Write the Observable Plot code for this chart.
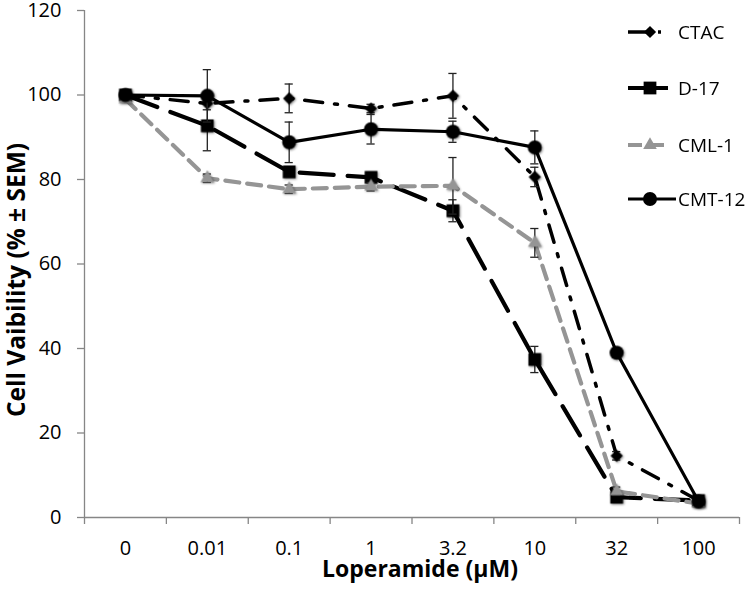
<!DOCTYPE html>
<html>
<head>
<meta charset="utf-8">
<script src="https://cdn.jsdelivr.net/npm/d3@7"></script>
<script src="https://cdn.jsdelivr.net/npm/@observablehq/plot@0.6"></script>
<style>
  html, body { margin: 0; padding: 0; background: #fff; }
  #chart { position: relative; width: 756px; height: 589px; font-family: "Open Sans", Lato, sans-serif; }
  #legend { position: absolute; left: 626px; top: 0; width: 130px; height: 230px; }
  .item { position: absolute; left: 0; height: 24px; display: flex; align-items: center; }
  .item span { font-size: 19px; color: #000; margin-left: 2px; }
  svg g[aria-label="dot"] { filter: drop-shadow(1px 1px 1.2px rgba(0,0,0,0.45)); }
  svg g[aria-label="y-axis tick"], svg g[aria-label="x-axis tick"] { stroke: #868686; stroke-width: 1.3; }
</style>
</head>
<body>
<div id="chart"><div id="legend"></div></div>
<script>
// ---- data ----
const concentrations = ["0", "0.01", "0.1", "1", "3.2", "10", "32", "100"];
const seriesNames = ["CTAC", "D-17", "CML-1", "CMT-12"];
const ctac      = [100, 98.0, 99.2, 96.8, 99.8, 80.6, 14.6, 4.0];
const ctacErr   = [0.5, 1.5, 3.4, 1.0, 5.3, 2.3, 1.0, 0.5];
const d17       = [100, 92.7, 81.8, 80.5, 72.6, 37.4, 4.8, 4.0];
const d17Err    = [0.5, 5.9, 1.0, 1.0, 2.6, 3.1, 0.5, 0.5];
const cml1      = [99.0, 80.3, 77.7, 78.3, 78.5, 65.0, 6.2, 3.3];
const cml1Err   = [0.5, 1.0, 1.0, 1.0, 6.7, 3.4, 1.0, 0.5];
const cmt12     = [100, 99.8, 88.8, 91.9, 91.3, 87.6, 39.0, 3.8];
const cmt12Err  = [0.5, 6.2, 4.8, 3.5, 2.5, 3.9, 1.0, 0.5];
const yTicks = [0, 20, 40, 60, 80, 100, 120];

// ---- styles ----
const styles = {
  "CTAC":   {color: "#000", width: 3.5, dash: "18,12,3,12", symbol: "diamond2", r: 5.5},
  "D-17":   {color: "#000", width: 4.2, dash: "34,14", symbol: "square", r: 7.2},
  "CML-1":  {color: "#959595", width: 4.2, dash: "14,8", symbol: "triangle2", r: 6.5},
  "CMT-12": {color: "#000", width: 3.2, dash: null, symbol: "circle", r: 7}
};
const valuesBy = {"CTAC": [ctac, ctacErr], "D-17": [d17, d17Err], "CML-1": [cml1, cml1Err], "CMT-12": [cmt12, cmt12Err]};

const cap = 0.05;
const marks = [];
for (const name of seriesNames) {
  const [vals, errs] = valuesBy[name];
  const st = styles[name];
  const rows = vals.map((v, i) => ({series: name, i, value: v, err: errs[i]}));
  marks.push(Plot.line(rows, {x: "i", y: "value", stroke: st.color, strokeWidth: st.width,
    strokeDasharray: st.dash || undefined, strokeLinejoin: "round"}));
  marks.push(Plot.ruleX(rows, {x: "i", y1: d => d.value - d.err, y2: d => d.value + d.err, stroke: "#222", strokeWidth: 1.3}));
  marks.push(Plot.ruleY(rows, {y: d => d.value + d.err, x1: d => d.i - cap, x2: d => d.i + cap, stroke: "#222", strokeWidth: 1.3}));
  marks.push(Plot.ruleY(rows, {y: d => d.value - d.err, x1: d => d.i - cap, x2: d => d.i + cap, stroke: "#222", strokeWidth: 1.3}));
  marks.push(Plot.dot(rows, {x: "i", y: "value", symbol: () => st.symbol, r: st.r, fill: st.color, stroke: "none"}));
}

const chart = Plot.plot({
  width: 756,
  height: 589,
  marginLeft: 84,
  marginRight: 17,
  marginTop: 10,
  marginBottom: 72,
  style: {fontFamily: "'Open Sans', Lato, sans-serif", fontSize: "20px", color: "#000", background: "#fff"},
  x: {type: "linear", domain: [-0.5, concentrations.length - 0.5]},
  y: {domain: [0, 120]},
  symbol: {type: "identity"},
  marks: [
    Plot.axisY({ticks: yTicks, tickSize: 7, tickPadding: 16, label: null, fontSize: 20}),
    Plot.axisX({ticks: d3.range(-0.5, concentrations.length, 1), tickSize: 7, tickFormat: () => "", label: null}),
    Plot.axisX({ticks: d3.range(concentrations.length), tickSize: 0, tickPadding: 23, tickFormat: i => concentrations[i], label: null, fontSize: 20}),
    Plot.ruleY([0], {stroke: "#868686", strokeWidth: 1.3}),
    Plot.ruleX([-0.5], {y1: 0, y2: 120, stroke: "#868686", strokeWidth: 1.3}),
    ...marks,
    Plot.text(["Loperamide (μM)"], {frameAnchor: "bottom", dx: 8, dy: 59, fontWeight: "bold", fontSize: 23, fill: "#000"}),
    Plot.text(["Cell Vaibility (% ± SEM)"], {frameAnchor: "left", textAnchor: "middle", dx: -67, dy: 16, rotate: -90, fontWeight: "bold", fontSize: 24.5, fill: "#000"})
  ]
});
document.getElementById("chart").prepend(chart);
chart.style.position = "absolute"; chart.style.left = "0"; chart.style.top = "0";

// ---- legend ----
const legendTops = [20, 76, 133, 187];
const legend = d3.select("#legend");
seriesNames.forEach((name, k) => {
  const st = styles[name];
  const item = legend.append("div").attr("class", "item").style("top", legendTops[k] + "px");
  const svg = item.append("svg").attr("width", 50).attr("height", 24);
  svg.append("line").attr("x1", 2).attr("x2", name === "CMT-12" ? 50 : 42).attr("y1", 12).attr("y2", 12)
    .attr("stroke", st.color).attr("stroke-width", st.width)
    .attr("stroke-dasharray", name === "D-17" || name === "CMT-12" ? null : st.dash);
  const size = st.r * st.r * Math.PI;
  const symMap = {circle: d3.symbolCircle, square: d3.symbolSquare, diamond2: d3.symbolDiamond2, triangle2: d3.symbolTriangle2};
  svg.append("path").attr("d", d3.symbol(symMap[st.symbol], size)()).attr("transform", "translate(24,12)")
    .attr("fill", st.color);
  item.append("span").text(name);
});
</script>
</body>
</html>
